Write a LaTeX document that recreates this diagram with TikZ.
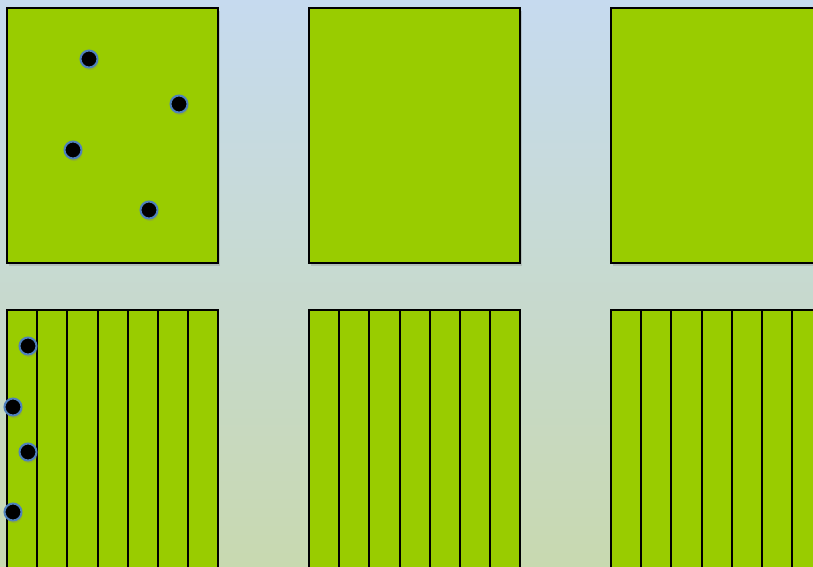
\documentclass[tikz,border=0pt]{standalone}
\usetikzlibrary{positioning, shadows}
\definecolor{cgreen}{HTML}{99CC00}
\definecolor{cblue}{HTML}{4F81BD}
\definecolor{ctop}{HTML}{C6DAEF}
\definecolor{cbottom}{HTML}{C8D9B0}
\tikzset{
  panel/.style={draw=black, fill=cgreen, line width=2pt, inner sep=0pt, anchor=north west,
    minimum width=211pt, minimum height=255pt,
    drop shadow={opacity=0.3, shadow xshift=1.5pt, shadow yshift=-2.5pt}},
  strip/.style={draw=black, fill=cgreen, line width=2pt, inner sep=0pt, anchor=north west,
    minimum width=30.2pt, minimum height=262pt},
  dot/.style={circle, draw=cblue, fill=black, line width=2pt, minimum size=17pt, inner sep=0pt,
    drop shadow={opacity=0.3, shadow xshift=1pt, shadow yshift=-2.5pt}},
}
\begin{document}
\begin{tikzpicture}[x=1pt, y=-1pt]
  \useasboundingbox (0,0) rectangle (813,566);
  \clip (0,0) rectangle (813,566);
  \shade[top color=ctop, bottom color=cbottom] (0,0) rectangle (813,566);
  % top row: plain panels
  \foreach \c [count=\k] in {6,308,610}
    \node[panel] (p\k) at (\c,7) {};
  % bottom row: 7 strips each
  \foreach \c [count=\k] in {6,308,610}
    \foreach \i in {0,...,6}
      \node[strip] (s\k\i) at (\c+30.2*\i,309) {};
  % dots in the first panel
  \node[dot] (d1) at (89,59) {};
  \node[dot] (d2) at (179,104) {};
  \node[dot] (d3) at (73,150) {};
  \node[dot] (d4) at (149,210) {};
  % dots on the first strip
  \node[dot] (e1) at (28,346) {};
  \node[dot] (e2) at (13,407) {};
  \node[dot] (e3) at (28,452) {};
  \node[dot] (e4) at (13,512) {};
\end{tikzpicture}
\end{document}
